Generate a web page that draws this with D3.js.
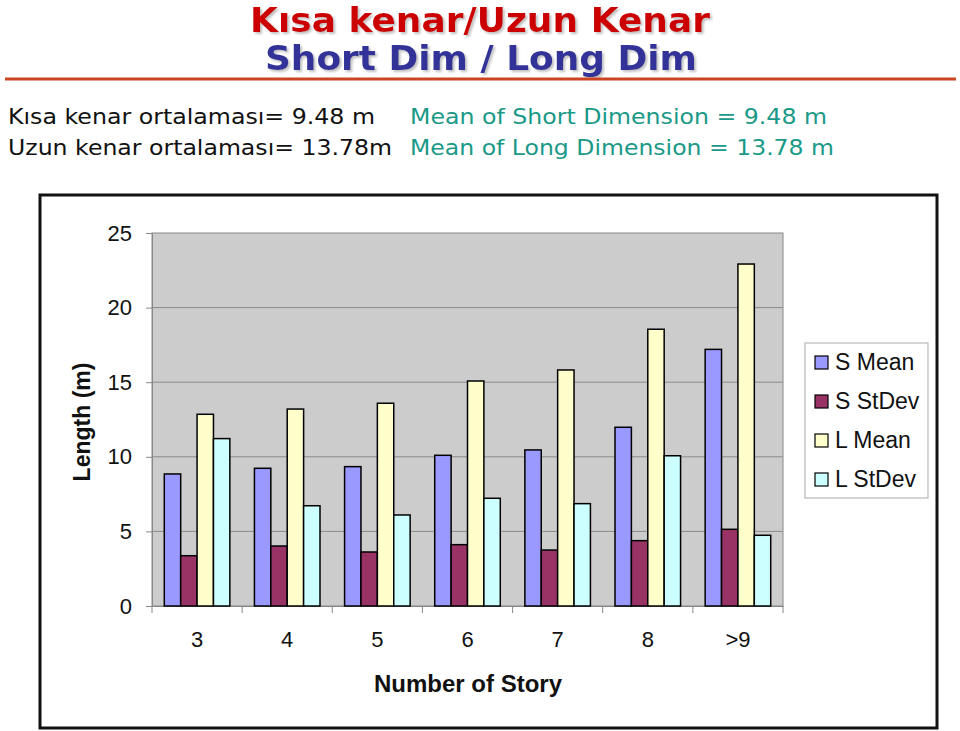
<!DOCTYPE html>
<html><head><meta charset="utf-8">
<script src="https://cdn.jsdelivr.net/npm/d3@7"></script>
<style>body{margin:0;background:#fff;}svg{display:block;}</style>
</head><body>
<script>
const categories = ["3","4","5","6","7","8",">9"];
const seriesNames = ["S Mean","S StDev","L Mean","L StDev"];
const sMean   = [8.85, 9.23, 9.34, 10.1, 10.46, 11.98, 17.2];
const sStDev  = [3.37, 4.02, 3.62, 4.11, 3.75, 4.38, 5.14];
const lMean   = [12.85, 13.2, 13.59, 15.08, 15.82, 18.55, 22.92];
const lStDev  = [11.22, 6.72, 6.1, 7.22, 6.86, 10.07, 4.74];
const yTicks  = [0,5,10,15,20,25];
const colors  = ["#9999ff","#993366","#ffffcc","#ccffff"];
const seriesValues = [sMean, sStDev, lMean, lStDev];

const W = 960, H = 731;
const svg = d3.select("body").append("svg").attr("width", W).attr("height", H);

const defs = svg.append("defs");
const f = defs.append("filter").attr("id","sh").attr("x","-5%").attr("y","-20%").attr("width","110%").attr("height","140%");
f.append("feDropShadow").attr("dx",2).attr("dy",2).attr("stdDeviation",1).attr("flood-color","#999").attr("flood-opacity",0.6);

// Titles
svg.append("text").attr("x", 250).attr("y", 32)
  .attr("font-family","Verdana, DejaVu Sans, sans-serif").attr("font-weight","bold")
  .attr("font-size", 33).attr("fill","#cc0000").attr("filter","url(#sh)")
  .attr("textLength",460).attr("lengthAdjust","spacingAndGlyphs").text("Kısa kenar/Uzun Kenar");
svg.append("text").attr("x", 265).attr("y", 70)
  .attr("font-family","Verdana, DejaVu Sans, sans-serif").attr("font-weight","bold")
  .attr("font-size", 34).attr("fill","#333399").attr("filter","url(#sh)")
  .attr("textLength",432).attr("lengthAdjust","spacingAndGlyphs").text("Short Dim / Long Dim");
svg.append("line").attr("x1",5).attr("x2",956).attr("y1",79).attr("y2",79)
  .attr("stroke","#cc4422").attr("stroke-width",3);

const tf = "Verdana, DejaVu Sans, sans-serif";
const lines = [
  {x:8, y:124, t:"Kısa kenar ortalaması= 9.48 m", c:"#111", w:367},
  {x:410, y:124, t:"Mean of Short Dimension = 9.48 m", c:"#1a9988", w:417},
  {x:8, y:155, t:"Uzun kenar ortalaması= 13.78m", c:"#111", w:384},
  {x:410, y:155, t:"Mean of Long Dimension = 13.78 m", c:"#1a9988", w:424}
];
lines.forEach(l => {
  svg.append("text").attr("x", l.x).attr("y", l.y).attr("font-family", tf)
    .attr("font-size", 21).attr("fill", l.c)
    .attr("textLength", l.w).attr("lengthAdjust","spacingAndGlyphs").text(l.t);
});

// Chart frame
svg.append("rect").attr("x",40).attr("y",195).attr("width",897).attr("height",533)
  .attr("fill","#fff").attr("stroke","#111").attr("stroke-width",3);

const plot = {l:152, r:783, t:233, b:606};
const x0 = d3.scaleBand().domain(categories).range([plot.l, plot.r]).paddingInner(0).paddingOuter(0);
const x1 = d3.scaleBand().domain(seriesNames).range([0, x0.bandwidth()]).paddingInner(0).paddingOuter(0.75);
const y = d3.scaleLinear().domain([0,25]).range([plot.b, plot.t]);

svg.append("rect").attr("x",plot.l).attr("y",plot.t).attr("width",plot.r-plot.l).attr("height",plot.b-plot.t)
  .attr("fill","#cccccc").attr("stroke","#888").attr("stroke-width",1);

// gridlines
svg.append("g").selectAll("line").data(yTicks.filter(d=>d>0&&d<25)).join("line")
  .attr("x1",plot.l).attr("x2",plot.r).attr("y1",d=>y(d)).attr("y2",d=>y(d))
  .attr("stroke","#8a8a8a").attr("stroke-width",1);

// Y axis
const yAxis = svg.append("g").attr("transform",`translate(${plot.l},0)`)
  .call(d3.axisLeft(y).tickValues(yTicks).tickSize(6).tickPadding(14));
yAxis.select(".domain").attr("stroke","#888");
yAxis.selectAll(".tick line").attr("stroke","#888");
yAxis.selectAll("text").attr("font-family","Arial, Liberation Sans, sans-serif").attr("font-size",22).attr("fill","#111");

// X axis
const xAxis = svg.append("g").attr("transform",`translate(0,${plot.b})`)
  .call(d3.axisBottom(x0).tickSize(0).tickPadding(25));
xAxis.select(".domain").attr("stroke","#888");
xAxis.selectAll("text").attr("font-family","Arial, Liberation Sans, sans-serif").attr("font-size",22).attr("fill","#111");
svg.append("g").selectAll("line").data(categories.concat(["end"])).join("line")
  .attr("x1",(d,i)=>plot.l + i*x0.step()).attr("x2",(d,i)=>plot.l + i*x0.step())
  .attr("y1",plot.b).attr("y2",plot.b+7).attr("stroke","#888");

// Bars
const groups = svg.append("g").selectAll("g").data(categories).join("g")
  .attr("transform", d => `translate(${x0(d)},0)`);
groups.selectAll("rect").data((d,i) => seriesNames.map((s,j)=>({s, j, v: seriesValues[j][i]}))).join("rect")
  .attr("x", d => x1(d.s)).attr("width", x1.bandwidth())
  .attr("y", d => y(d.v)).attr("height", d => y(0)-y(d.v))
  .attr("fill", d => colors[d.j]).attr("stroke","#000").attr("stroke-width",1.5);

// Axis titles
svg.append("text").attr("transform","translate(90,422) rotate(-90)").attr("text-anchor","middle")
  .attr("font-family","Arial, Liberation Sans, sans-serif").attr("font-weight","bold").attr("font-size",23)
  .attr("fill","#111").text("Length (m)");
svg.append("text").attr("x",468).attr("y",692).attr("text-anchor","middle")
  .attr("font-family","Arial, Liberation Sans, sans-serif").attr("font-weight","bold").attr("font-size",24)
  .attr("fill","#111").text("Number of Story");

// Legend
const leg = svg.append("g").attr("transform","translate(805,343)");
leg.append("rect").attr("width",123).attr("height",155).attr("fill","#fff").attr("stroke","#aaa");
const li = leg.selectAll("g").data(seriesNames).join("g")
  .attr("transform",(d,i)=>`translate(10,${18 + i*39})`);
li.append("rect").attr("x",0).attr("y",-5).attr("width",13).attr("height",13)
  .attr("fill",(d,i)=>colors[i]).attr("stroke","#000").attr("stroke-width",1.2);
li.append("text").attr("x",20).attr("y",9).attr("font-family","Arial, Liberation Sans, sans-serif")
  .attr("font-size",23).attr("fill","#111").text(d=>d);
</script>
</body></html>
